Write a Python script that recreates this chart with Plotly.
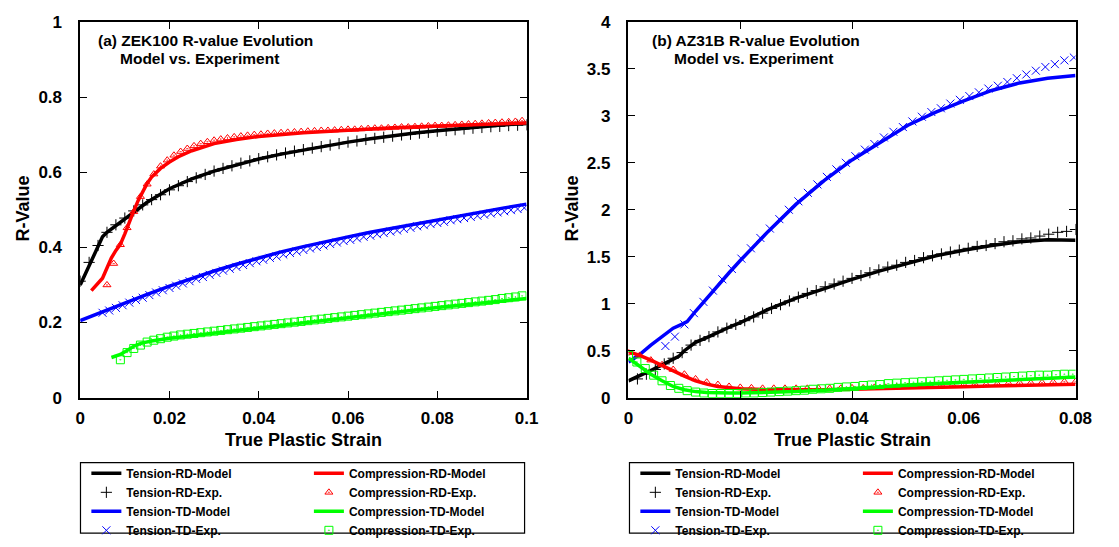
import plotly.graph_objects as go

# ---------------- ZEK100 (panel a) ----------------
zek_t_rd_model_x = [0.000, 0.001, 0.002, 0.003, 0.004, 0.005, 0.006, 0.008, 0.010, 0.012, 0.015, 0.020,
                    0.025, 0.030, 0.035, 0.040, 0.045, 0.050, 0.055, 0.060, 0.065, 0.070, 0.075, 0.080,
                    0.085, 0.090, 0.095, 0.100]
zek_t_rd_model_y = [0.300, 0.325, 0.352, 0.380, 0.405, 0.428, 0.440, 0.458, 0.477, 0.495, 0.520, 0.556,
                    0.582, 0.603, 0.620, 0.635, 0.648, 0.659, 0.670, 0.680, 0.689, 0.697, 0.704, 0.710,
                    0.716, 0.721, 0.726, 0.730]

zek_t_rd_exp_x = [0.000, 0.002, 0.004, 0.006, 0.008, 0.010, 0.012, 0.014, 0.016, 0.018, 0.020, 0.022,
                  0.024, 0.026, 0.028, 0.030, 0.032, 0.034, 0.036, 0.038, 0.040, 0.042, 0.044, 0.046,
                  0.048, 0.050, 0.052, 0.054, 0.056, 0.058, 0.060, 0.062, 0.064, 0.066, 0.068, 0.070,
                  0.072, 0.074, 0.076, 0.078, 0.080, 0.082, 0.084, 0.086, 0.088, 0.090, 0.092, 0.094,
                  0.096, 0.098, 0.100]
zek_t_rd_exp_y = [0.310, 0.360, 0.405, 0.440, 0.460, 0.478, 0.497, 0.513, 0.527, 0.540, 0.553, 0.564,
                  0.575, 0.585, 0.594, 0.603, 0.610, 0.617, 0.624, 0.630, 0.636, 0.641, 0.646, 0.651,
                  0.656, 0.660, 0.664, 0.668, 0.672, 0.676, 0.680, 0.683, 0.687, 0.690, 0.693, 0.696,
                  0.699, 0.701, 0.704, 0.706, 0.709, 0.711, 0.713, 0.715, 0.717, 0.719, 0.721, 0.722,
                  0.724, 0.725, 0.726]

zek_t_td_model_x = [0.000, 0.005, 0.010, 0.015, 0.020, 0.025, 0.030, 0.035, 0.040, 0.045, 0.050, 0.055,
                    0.060, 0.065, 0.070, 0.075, 0.080, 0.085, 0.090, 0.095, 0.100]
zek_t_td_model_y = [0.205, 0.229, 0.252, 0.275, 0.297, 0.318, 0.337, 0.355, 0.372, 0.388, 0.402, 0.416,
                    0.428, 0.440, 0.451, 0.463, 0.474, 0.485, 0.495, 0.505, 0.515]

zek_t_td_exp_x = [0.0050, 0.0065, 0.0080, 0.0095, 0.0110, 0.0125, 0.0140, 0.0155, 0.0170, 0.0185,
                  0.0200, 0.0215, 0.0230, 0.0245, 0.0260, 0.0275, 0.0290, 0.0305, 0.0320, 0.0335,
                  0.0350, 0.0365, 0.0380, 0.0395, 0.0410, 0.0425, 0.0440, 0.0455, 0.0470, 0.0485,
                  0.0500, 0.0515, 0.0530, 0.0545, 0.0560, 0.0575, 0.0590, 0.0605, 0.0620, 0.0635,
                  0.0650, 0.0665, 0.0680, 0.0695, 0.0710, 0.0725, 0.0740, 0.0755, 0.0770, 0.0785,
                  0.0800, 0.0815, 0.0830, 0.0845, 0.0860, 0.0875, 0.0890, 0.0905, 0.0920, 0.0935,
                  0.0950, 0.0965, 0.0980, 0.0995]
zek_t_td_exp_y = [0.226, 0.232, 0.239, 0.246, 0.253, 0.260, 0.266, 0.273, 0.280, 0.286,
                  0.292, 0.298, 0.304, 0.310, 0.316, 0.321, 0.327, 0.332, 0.338, 0.343,
                  0.348, 0.353, 0.358, 0.363, 0.367, 0.372, 0.376, 0.381, 0.385, 0.389,
                  0.393, 0.397, 0.401, 0.405, 0.409, 0.413, 0.417, 0.420, 0.424, 0.428,
                  0.431, 0.435, 0.438, 0.442, 0.445, 0.449, 0.452, 0.456, 0.459, 0.462,
                  0.465, 0.468, 0.472, 0.475, 0.478, 0.481, 0.484, 0.487, 0.490, 0.493,
                  0.496, 0.499, 0.502, 0.505]

zek_c_rd_model_x = [0.0025, 0.004, 0.005, 0.006, 0.007, 0.008, 0.009, 0.010, 0.011, 0.012, 0.013, 0.014,
                    0.015, 0.016, 0.018, 0.020, 0.022, 0.025, 0.030, 0.035, 0.040, 0.050, 0.060, 0.070,
                    0.080, 0.090, 0.100]
zek_c_rd_model_y = [0.285, 0.305, 0.318, 0.345, 0.372, 0.392, 0.408, 0.436, 0.468, 0.497, 0.525, 0.550,
                    0.570, 0.587, 0.610, 0.627, 0.641, 0.657, 0.676, 0.687, 0.695, 0.705, 0.712, 0.718,
                    0.723, 0.727, 0.731]

zek_c_rd_exp_x = [0.0060, 0.0075, 0.0090, 0.0105, 0.0120, 0.0135, 0.0150, 0.0165, 0.0180, 0.0195,
                  0.0210, 0.0225, 0.0240, 0.0255, 0.0270, 0.0285, 0.0300, 0.0315, 0.0330, 0.0345,
                  0.0360, 0.0375, 0.0390, 0.0405, 0.0420, 0.0435, 0.0450, 0.0465, 0.0480, 0.0495,
                  0.0510, 0.0525, 0.0540, 0.0555, 0.0570, 0.0585, 0.0600, 0.0615, 0.0630, 0.0645,
                  0.0660, 0.0675, 0.0690, 0.0705, 0.0720, 0.0735, 0.0750, 0.0765, 0.0780, 0.0795,
                  0.0810, 0.0825, 0.0840, 0.0855, 0.0870, 0.0885, 0.0900, 0.0915, 0.0930, 0.0945,
                  0.0960, 0.0975, 0.0990]
zek_c_rd_exp_y = [0.300, 0.357, 0.407, 0.452, 0.495, 0.535, 0.568, 0.595, 0.616, 0.632,
                  0.645, 0.655, 0.663, 0.670, 0.676, 0.681, 0.685, 0.688, 0.691, 0.694,
                  0.696, 0.698, 0.700, 0.701, 0.703, 0.704, 0.705, 0.706, 0.707, 0.708,
                  0.709, 0.710, 0.711, 0.711, 0.712, 0.713, 0.714, 0.714, 0.715, 0.716,
                  0.717, 0.717, 0.718, 0.719, 0.720, 0.720, 0.721, 0.722, 0.723, 0.724,
                  0.724, 0.725, 0.726, 0.727, 0.728, 0.729, 0.730, 0.731, 0.732, 0.733,
                  0.734, 0.735, 0.737]

zek_c_td_model_x = [0.007, 0.008, 0.009, 0.010, 0.011, 0.012, 0.013, 0.014, 0.016, 0.018, 0.020, 0.025,
                    0.030, 0.035, 0.040, 0.045, 0.050, 0.055, 0.060, 0.065, 0.070, 0.075, 0.080, 0.085,
                    0.090, 0.095, 0.100]
zek_c_td_model_y = [0.107, 0.110, 0.115, 0.122, 0.130, 0.137, 0.142, 0.146, 0.151, 0.155, 0.158, 0.165,
                    0.172, 0.179, 0.186, 0.193, 0.200, 0.207, 0.213, 0.220, 0.227, 0.233, 0.240, 0.246,
                    0.252, 0.258, 0.264]

zek_c_td_exp_x = [0.0090, 0.0105, 0.0120, 0.0135, 0.0150, 0.0165, 0.0180, 0.0195, 0.0210, 0.0225,
                  0.0240, 0.0255, 0.0270, 0.0285, 0.0300, 0.0315, 0.0330, 0.0345, 0.0360, 0.0375,
                  0.0390, 0.0405, 0.0420, 0.0435, 0.0450, 0.0465, 0.0480, 0.0495, 0.0510, 0.0525,
                  0.0540, 0.0555, 0.0570, 0.0585, 0.0600, 0.0615, 0.0630, 0.0645, 0.0660, 0.0675,
                  0.0690, 0.0705, 0.0720, 0.0735, 0.0750, 0.0765, 0.0780, 0.0795, 0.0810, 0.0825,
                  0.0840, 0.0855, 0.0870, 0.0885, 0.0900, 0.0915, 0.0930, 0.0945, 0.0960, 0.0975,
                  0.0990]
zek_c_td_exp_y = [0.101, 0.120, 0.131, 0.140, 0.148, 0.153, 0.157, 0.161, 0.164, 0.167,
                  0.169, 0.171, 0.173, 0.175, 0.177, 0.179, 0.181, 0.183, 0.185, 0.187,
                  0.189, 0.191, 0.193, 0.195, 0.197, 0.199, 0.201, 0.203, 0.205, 0.207,
                  0.209, 0.211, 0.213, 0.215, 0.217, 0.219, 0.221, 0.223, 0.225, 0.227,
                  0.229, 0.231, 0.233, 0.235, 0.237, 0.239, 0.241, 0.243, 0.245, 0.247,
                  0.249, 0.251, 0.253, 0.255, 0.257, 0.259, 0.261, 0.264, 0.266, 0.268,
                  0.271]

# ---------------- AZ31B (panel b) ----------------
az_t_rd_model_x = [0.000, 0.002, 0.004, 0.006, 0.008, 0.009, 0.010, 0.011, 0.012, 0.014, 0.016, 0.018,
                   0.020, 0.025, 0.030, 0.035, 0.040, 0.045, 0.050, 0.055, 0.060, 0.065, 0.070, 0.075,
                   0.080]
az_t_rd_model_y = [0.18, 0.23, 0.29, 0.35, 0.41, 0.44, 0.50, 0.55, 0.59, 0.64, 0.70, 0.75,
                   0.80, 0.94, 1.06, 1.16, 1.26, 1.35, 1.43, 1.51, 1.57, 1.62, 1.66, 1.68,
                   1.675]

az_t_rd_exp_x = [0.0016, 0.0032, 0.0048, 0.0064, 0.0080, 0.0096, 0.0112, 0.0128, 0.0144, 0.0160,
                 0.0176, 0.0192, 0.0208, 0.0224, 0.0240, 0.0256, 0.0272, 0.0288, 0.0304, 0.0320,
                 0.0336, 0.0352, 0.0368, 0.0384, 0.0400, 0.0416, 0.0432, 0.0448, 0.0464, 0.0480,
                 0.0496, 0.0512, 0.0528, 0.0544, 0.0560, 0.0576, 0.0592, 0.0608, 0.0624, 0.0640,
                 0.0656, 0.0672, 0.0688, 0.0704, 0.0720, 0.0736, 0.0752, 0.0768, 0.0784, 0.0800]
az_t_rd_exp_y = [0.20, 0.25, 0.30, 0.36, 0.42, 0.48, 0.56, 0.61, 0.65, 0.70,
                 0.74, 0.78, 0.82, 0.86, 0.90, 0.95, 0.99, 1.03, 1.07, 1.11,
                 1.14, 1.18, 1.21, 1.24, 1.27, 1.30, 1.33, 1.36, 1.39, 1.41,
                 1.44, 1.46, 1.49, 1.51, 1.53, 1.55, 1.57, 1.59, 1.61, 1.62,
                 1.64, 1.66, 1.67, 1.69, 1.70, 1.72, 1.74, 1.76, 1.77, 1.79]

az_t_td_model_x = [0.000, 0.002, 0.004, 0.006, 0.008, 0.0095, 0.0105, 0.012, 0.014, 0.016, 0.018,
                   0.020, 0.025, 0.030, 0.035, 0.040, 0.045, 0.050, 0.055, 0.060, 0.065, 0.070,
                   0.075, 0.080]
az_t_td_model_y = [0.38, 0.46, 0.56, 0.65, 0.74, 0.78, 0.81, 0.92, 1.06, 1.20, 1.33,
                   1.46, 1.77, 2.06, 2.31, 2.53, 2.72, 2.90, 3.04, 3.16, 3.27, 3.35,
                   3.40, 3.43]

az_t_td_exp_x = [0.0066, 0.0083, 0.0100, 0.0117, 0.0134, 0.0151, 0.0168, 0.0185, 0.0202, 0.0219,
                 0.0236, 0.0253, 0.0270, 0.0287, 0.0304, 0.0321, 0.0338, 0.0355, 0.0372, 0.0389,
                 0.0406, 0.0423, 0.0440, 0.0457, 0.0474, 0.0491, 0.0508, 0.0525, 0.0542, 0.0559,
                 0.0576, 0.0593, 0.0610, 0.0627, 0.0644, 0.0661, 0.0678, 0.0695, 0.0712, 0.0729,
                 0.0746, 0.0763, 0.0780, 0.0797]
az_t_td_exp_y = [0.55, 0.65, 0.78, 0.90, 1.02, 1.14, 1.26, 1.37, 1.48, 1.59,
                 1.70, 1.80, 1.90, 2.00, 2.09, 2.18, 2.27, 2.35, 2.43, 2.50,
                 2.57, 2.64, 2.70, 2.77, 2.83, 2.88, 2.94, 2.99, 3.04, 3.08,
                 3.13, 3.17, 3.21, 3.25, 3.29, 3.32, 3.36, 3.40, 3.44, 3.48,
                 3.52, 3.55, 3.59, 3.62]

az_c_rd_model_x = [0.000, 0.002, 0.004, 0.006, 0.008, 0.010, 0.012, 0.014, 0.016, 0.018, 0.020, 0.025,
                   0.030, 0.035, 0.040, 0.045, 0.050, 0.055, 0.060, 0.065, 0.070, 0.075, 0.080]
az_c_rd_model_y = [0.49, 0.45, 0.40, 0.34, 0.28, 0.23, 0.18, 0.145, 0.12, 0.105, 0.095, 0.085,
                   0.083, 0.085, 0.090, 0.095, 0.100, 0.110, 0.117, 0.125, 0.132, 0.138, 0.143]

az_c_rd_exp_x = [0.000, 0.002, 0.004, 0.006, 0.008, 0.010, 0.012, 0.014, 0.016, 0.018, 0.020,
                 0.022, 0.024, 0.026, 0.028, 0.030, 0.032, 0.034, 0.036, 0.038, 0.040, 0.042,
                 0.044, 0.046, 0.048, 0.050, 0.052, 0.054, 0.056, 0.058, 0.060, 0.062, 0.064,
                 0.066, 0.068, 0.070, 0.072, 0.074, 0.076, 0.078, 0.080]
az_c_rd_exp_y = [0.48, 0.45, 0.40, 0.35, 0.30, 0.25, 0.20, 0.165, 0.14, 0.12, 0.11,
                 0.105, 0.10, 0.10, 0.10, 0.10, 0.10, 0.10, 0.10, 0.10, 0.105, 0.105,
                 0.11, 0.11, 0.115, 0.12, 0.12, 0.125, 0.13, 0.13, 0.135, 0.14, 0.14,
                 0.145, 0.15, 0.155, 0.155, 0.16, 0.165, 0.17, 0.17]

az_c_td_model_x = [0.000, 0.002, 0.004, 0.006, 0.008, 0.010, 0.012, 0.014, 0.016, 0.018, 0.020, 0.025,
                   0.030, 0.035, 0.040, 0.045, 0.050, 0.055, 0.060, 0.065, 0.070, 0.075, 0.080]
az_c_td_model_y = [0.42, 0.33, 0.25, 0.18, 0.12, 0.085, 0.065, 0.055, 0.05, 0.05, 0.05, 0.055,
                   0.065, 0.08, 0.10, 0.12, 0.135, 0.15, 0.165, 0.18, 0.195, 0.21, 0.22]

az_c_td_exp_x = [0.0000, 0.0015, 0.0030, 0.0045, 0.0060, 0.0075, 0.0090, 0.0105, 0.0120, 0.0135,
                 0.0150, 0.0165, 0.0180, 0.0195, 0.0210, 0.0225, 0.0240, 0.0255, 0.0270, 0.0285,
                 0.0300, 0.0315, 0.0330, 0.0345, 0.0360, 0.0375, 0.0390, 0.0405, 0.0420, 0.0435,
                 0.0450, 0.0465, 0.0480, 0.0495, 0.0510, 0.0525, 0.0540, 0.0555, 0.0570, 0.0585,
                 0.0600, 0.0615, 0.0630, 0.0645, 0.0660, 0.0675, 0.0690, 0.0705, 0.0720, 0.0735,
                 0.0750, 0.0765, 0.0780, 0.0795]
az_c_td_exp_y = [0.45, 0.38, 0.31, 0.24, 0.18, 0.13, 0.10, 0.075, 0.06, 0.05,
                 0.045, 0.045, 0.045, 0.045, 0.05, 0.05, 0.055, 0.06, 0.065, 0.07,
                 0.075, 0.08, 0.09, 0.095, 0.10, 0.11, 0.115, 0.12, 0.13, 0.135,
                 0.14, 0.15, 0.155, 0.16, 0.165, 0.17, 0.175, 0.18, 0.185, 0.19,
                 0.195, 0.20, 0.205, 0.21, 0.215, 0.22, 0.225, 0.23, 0.235, 0.24,
                 0.24, 0.245, 0.25, 0.25]

# ---------------- styling ----------------
W, H = 1119, 547
FONT = "Liberation Sans, Arial, Helvetica, sans-serif"
BLACK, RED, BLUE, GREEN = "#000000", "#ff0000", "#0000ff", "#00ff00"
LINE_W = 3.5


def px(xp):
    return xp / W


def py(yp):
    return 1 - yp / H


def bold(size):
    return dict(family=FONT, size=size, color="black", weight="bold")


fig = go.Figure()


def model(x, y, name, color, xa, ya, legend):
    fig.add_trace(go.Scatter(x=x, y=y, mode="lines", name=name, xaxis=xa, yaxis=ya,
                             legend=legend, line=dict(color=color, width=LINE_W)))


def exp(x, y, name, color, symbol, size, xa, ya, legend):
    fig.add_trace(go.Scatter(x=x, y=y, mode="markers", name=name, xaxis=xa, yaxis=ya,
                             legend=legend,
                             marker=dict(symbol=symbol, size=size, color=color,
                                         line=dict(color=color, width=1))))


panels = [
    ("x", "y", "legend", "legend2",
     (zek_t_rd_model_x, zek_t_rd_model_y), (zek_t_rd_exp_x, zek_t_rd_exp_y),
     (zek_t_td_model_x, zek_t_td_model_y), (zek_t_td_exp_x, zek_t_td_exp_y),
     (zek_c_rd_model_x, zek_c_rd_model_y), (zek_c_rd_exp_x, zek_c_rd_exp_y),
     (zek_c_td_model_x, zek_c_td_model_y), (zek_c_td_exp_x, zek_c_td_exp_y)),
    ("x2", "y2", "legend3", "legend4",
     (az_t_rd_model_x, az_t_rd_model_y), (az_t_rd_exp_x, az_t_rd_exp_y),
     (az_t_td_model_x, az_t_td_model_y), (az_t_td_exp_x, az_t_td_exp_y),
     (az_c_rd_model_x, az_c_rd_model_y), (az_c_rd_exp_x, az_c_rd_exp_y),
     (az_c_td_model_x, az_c_td_model_y), (az_c_td_exp_x, az_c_td_exp_y)),
]

for xa, ya, lg1, lg2, trm, tre, ttm, tte, crm, cre, ctm, cte in panels:
    model(*trm, "Tension-RD-Model", BLACK, xa, ya, lg1)
    exp(*tre, "Tension-RD-Exp.", BLACK, "cross-thin", 8, xa, ya, lg1)
    model(*ttm, "Tension-TD-Model", BLUE, xa, ya, lg1)
    exp(*tte, "Tension-TD-Exp.", BLUE, "x-thin", 8, xa, ya, lg1)
    model(*crm, "Compression-RD-Model", RED, xa, ya, lg2)
    exp(*cre, "Compression-RD-Exp.", RED, "triangle-up-open-dot", 7, xa, ya, lg2)
    model(*ctm, "Compression-TD-Model", GREEN, xa, ya, lg2)
    exp(*cte, "Compression-TD-Exp.", GREEN, "square-open-dot", 8, xa, ya, lg2)

axis_style = dict(showline=True, linecolor="black", linewidth=1.5, mirror="allticks",
                  ticks="inside", ticklen=7, tickwidth=1.2, tickcolor="black",
                  showgrid=False, zeroline=False, tickfont=bold(17))
x_style = dict(axis_style, ticklabelstandoff=4)
y_style = dict(axis_style, ticklabelstandoff=13)

# plot-area edges in pixels
L_X0, L_X1 = 76.7, 532.0
R_X0, R_X1 = 636.0, 1092.0
P_TOP, P_BOT = 13.3, 402.7

fig.update_layout(
    width=W, height=H,
    margin=dict(l=0, r=0, t=0, b=0),
    paper_bgcolor="white", plot_bgcolor="white",
    xaxis=dict(domain=[px(L_X0), px(L_X1)], range=[0, 0.1], tickvals=[0, 0.02, 0.04, 0.06, 0.08, 0.1],
               anchor="y", **x_style),
    yaxis=dict(domain=[py(P_BOT), py(P_TOP)], range=[0, 1], tickvals=[0, 0.2, 0.4, 0.6, 0.8, 1],
               anchor="x", **y_style),
    xaxis2=dict(domain=[px(R_X0), px(R_X1)], range=[0, 0.08], tickvals=[0, 0.02, 0.04, 0.06, 0.08],
                anchor="y2", **x_style),
    yaxis2=dict(domain=[py(P_BOT), py(P_TOP)], range=[0, 4],
                tickvals=[0, 0.5, 1, 1.5, 2, 2.5, 3, 3.5, 4], anchor="x2", **y_style),
    showlegend=True,
)

# two-column legends, one column per legend object
LEG_TOP = 466
leg_common = dict(orientation="v", yanchor="top", xanchor="left", y=py(LEG_TOP),
                  bgcolor="rgba(0,0,0,0)", borderwidth=0, font=bold(12),
                  tracegroupgap=0, itemclick=False, itemdoubleclick=False)
fig.update_layout(
    legend=dict(x=px(83), **leg_common),
    legend2=dict(x=px(310), **leg_common),
    legend3=dict(x=px(643), **leg_common),
    legend4=dict(x=px(870), **leg_common),
)

# legend frames
for x0, x1 in [(77, 530), (637, 1090)]:
    fig.add_shape(type="rect", xref="paper", yref="paper",
                  x0=px(x0), x1=px(x1), y0=py(543), y1=py(470),
                  line=dict(color="black", width=1.2), fillcolor="rgba(0,0,0,0)")

# panel captions and axis titles
notes = [
    ("(a) ZEK100 R-value Evolution", 93, 32.7),
    ("Model vs. Experiment", 115, 51.7),
    ("(b) AZ31B R-value Evolution", 658, 32.7),
    ("Model vs. Experiment", 680, 51.7),
]
for text, xp, yp in notes:
    fig.add_annotation(text=text, xref="paper", yref="paper", x=px(xp), y=py(yp),
                       xanchor="left", yanchor="middle", showarrow=False, font=bold(15.5))

for xc in [(L_X0 + L_X1) / 2, (R_X0 + R_X1) / 2]:
    fig.add_annotation(text="True Plastic Strain", xref="paper", yref="paper", x=px(xc), y=py(446.7),
                       xanchor="center", yanchor="middle", showarrow=False, font=bold(18))
for xc in [18, 578]:
    fig.add_annotation(text="R-Value", xref="paper", yref="paper", x=px(xc), y=py(207),
                       xanchor="center", yanchor="middle", showarrow=False, textangle=-90,
                       font=bold(18))

fig.write_html("out.html")
